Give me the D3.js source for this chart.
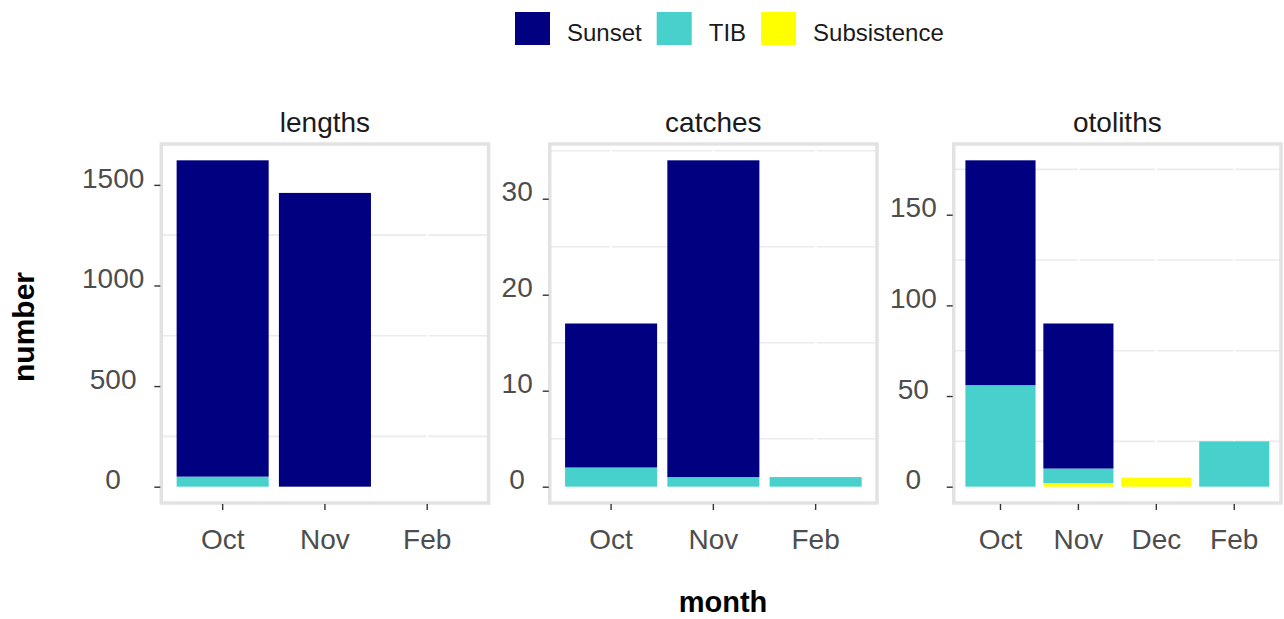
<!DOCTYPE html>
<html>
<head>
<meta charset="utf-8">
<script src="https://cdn.jsdelivr.net/npm/d3@7"></script>
<style>
  body { margin: 0; background: #fff; }
  text { font-family: "Liberation Sans", Arial, sans-serif; }
</style>
</head>
<body>
<script>
// data
const panels = ["lengths", "catches", "otoliths"];
const fleets = ["Sunset", "TIB", "Subsistence"];
const fleetColors = ["#000080", "#48D1CC", "#FFFF00"];

const lengthsMonths = ["Oct", "Nov", "Feb"];
const catchesMonths = ["Oct", "Nov", "Feb"];
const otolithsMonths = ["Oct", "Nov", "Dec", "Feb"];

// values by fleet, one entry per month of the panel
const lengthsSunset = [1572, 1460, 0];
const lengthsTIB = [50, 0, 0];
const lengthsSubsistence = [0, 0, 0];

const catchesSunset = [15, 33, 0];
const catchesTIB = [2, 1, 1];
const catchesSubsistence = [0, 0, 0];

const otolithsSunset = [124, 80, 0, 0];
const otolithsTIB = [56, 8, 0, 25];
const otolithsSubsistence = [0, 2, 5, 0];

const lengthsTicks = [0, 500, 1000, 1500];
const catchesTicks = [0, 10, 20, 30];
const otolithsTicks = [0, 50, 100, 150];

const panelData = [
  { name: "lengths", months: lengthsMonths, ticks: lengthsTicks,
    series: [lengthsSunset, lengthsTIB, lengthsSubsistence] },
  { name: "catches", months: catchesMonths, ticks: catchesTicks,
    series: [catchesSunset, catchesTIB, catchesSubsistence] },
  { name: "otoliths", months: otolithsMonths, ticks: otolithsTicks,
    series: [otolithsSunset, otolithsTIB, otolithsSubsistence] }
];

const WIDTH = 1284, HEIGHT = 619;
const PANEL_TOP = 144, PANEL_BOTTOM = 503;
const AXIS_START = 83, RIGHT_EDGE = 1281, SPACING = 14;
const TICK = 6, TICK_GAP = 10;
const TICK_FONT = 28;

const svg = d3.select("body").append("svg")
  .attr("width", WIDTH)
  .attr("height", HEIGHT);

function textWidth(str, size, weight) {
  const t = svg.append("text")
    .style("font-size", size + "px")
    .style("font-weight", weight || "normal")
    .text(str);
  const w = t.node().getComputedTextLength();
  t.remove();
  return w;
}

// y axis width for each panel from its widest tick label
const axisW = panelData.map(p => d3.max(p.ticks, v => textWidth(String(v), TICK_FONT)) + TICK + TICK_GAP);
const panelW = (RIGHT_EDGE - AXIS_START - d3.sum(axisW) - SPACING * (panels.length - 1)) / panels.length;

let cursor = AXIS_START;
panelData.forEach((p, i) => {
  const labelW = axisW[i] - TICK - TICK_GAP;
  const left = cursor + axisW[i];
  const right = left + panelW;
  cursor = right + SPACING;

  // stacked totals, bottom = Subsistence, then TIB, then Sunset on top
  const rows = p.months.map((m, j) => {
    const r = { month: m };
    fleets.forEach((f, k) => r[f] = p.series[k][j]);
    return r;
  });
  const stack = d3.stack().keys(fleets.slice().reverse())(rows);
  const maxTotal = d3.max(rows, r => d3.sum(fleets, f => r[f]));

  const x = d3.scaleBand()
    .domain(p.months)
    .range([left, right])
    .paddingInner(0.1)
    .paddingOuter(0.15);

  const y = d3.scaleLinear()
    .domain([-0.05 * maxTotal, 1.05 * maxTotal])
    .range([PANEL_BOTTOM, PANEL_TOP]);

  const g = svg.append("g");

  // panel background
  g.append("rect")
    .attr("x", left).attr("y", PANEL_TOP)
    .attr("width", right - left).attr("height", PANEL_BOTTOM - PANEL_TOP)
    .attr("fill", "#fff");

  // minor grid lines half way between breaks
  const step = p.ticks[1] - p.ticks[0];
  const minor = d3.range(p.ticks[0] + step / 2, y.domain()[1], step);
  g.selectAll(".minor").data(minor).enter().append("line")
    .attr("x1", left).attr("x2", right)
    .attr("y1", d => y(d)).attr("y2", d => y(d))
    .attr("stroke", "#ebebeb").attr("stroke-width", 1.6);

  // white major lines at the months
  g.selectAll(".major").data(p.months).enter().append("line")
    .attr("x1", d => x(d) + x.bandwidth() / 2).attr("x2", d => x(d) + x.bandwidth() / 2)
    .attr("y1", PANEL_TOP).attr("y2", PANEL_BOTTOM)
    .attr("stroke", "#fff").attr("stroke-width", 2);

  // bars
  stack.forEach(layer => {
    const color = fleetColors[fleets.indexOf(layer.key)];
    g.selectAll(null).data(layer.filter(d => d[1] > d[0])).enter().append("rect")
      .attr("x", d => x(d.data.month))
      .attr("width", x.bandwidth())
      .attr("y", d => y(d[1]))
      .attr("height", d => y(d[0]) - y(d[1]))
      .attr("fill", color);
  });

  // panel border
  g.append("rect")
    .attr("x", left).attr("y", PANEL_TOP)
    .attr("width", right - left).attr("height", PANEL_BOTTOM - PANEL_TOP)
    .attr("fill", "none")
    .attr("stroke", "#e2e2e2")
    .attr("stroke-width", 3.5);

  // y axis
  const yAxis = g.append("g")
    .attr("transform", `translate(${left - 1},0)`)
    .call(d3.axisLeft(y).tickValues(p.ticks).tickFormat(d3.format("d")).tickSize(TICK).tickPadding(0));
  yAxis.select(".domain").remove();
  yAxis.selectAll(".tick line").attr("stroke", "#333").attr("stroke-width", 1.4);
  yAxis.selectAll(".tick text")
    .attr("x", -(TICK + TICK_GAP + labelW / 2))
    .attr("dy", "0.08em")
    .attr("text-anchor", "middle")
    .attr("fill", "#4d4d4d")
    .style("font-size", TICK_FONT + "px")
    .style("font-family", "Liberation Sans, Arial, sans-serif");

  // x axis
  const xAxis = g.append("g")
    .attr("transform", `translate(0,${PANEL_BOTTOM + 1})`)
    .call(d3.axisBottom(x).tickSize(TICK).tickPadding(0));
  xAxis.select(".domain").remove();
  xAxis.selectAll(".tick line").attr("stroke", "#333").attr("stroke-width", 1.4);
  xAxis.selectAll(".tick text")
    .attr("y", 45)
    .attr("dy", 0)
    .attr("fill", "#4d4d4d")
    .style("font-size", TICK_FONT + "px")
    .style("font-family", "Liberation Sans, Arial, sans-serif");

  // strip title
  g.append("text")
    .attr("x", (left + right) / 2)
    .attr("y", 132)
    .attr("text-anchor", "middle")
    .attr("fill", "#1a1a1a")
    .style("font-size", "28px")
    .text(p.name);
});

// axis titles
svg.append("text")
  .attr("transform", "translate(34,327) rotate(-90)")
  .attr("text-anchor", "middle")
  .style("font-size", "30px")
  .style("font-weight", "bold")
  .text("number");

svg.append("text")
  .attr("x", 723)
  .attr("y", 612)
  .attr("text-anchor", "middle")
  .style("font-size", "29px")
  .style("font-weight", "bold")
  .text("month");

// legend
const legend = svg.append("g");
let lx = 515;
fleets.forEach((f, i) => {
  legend.append("rect")
    .attr("x", lx).attr("y", 12)
    .attr("width", 35).attr("height", 33)
    .attr("fill", fleetColors[i]);
  legend.append("text")
    .attr("x", lx + 52)
    .attr("y", 41)
    .attr("fill", "#1a1a1a")
    .style("font-size", "24px")
    .text(f);
  lx += 52 + textWidth(f, 24) + 15;
});
</script>
</body>
</html>
